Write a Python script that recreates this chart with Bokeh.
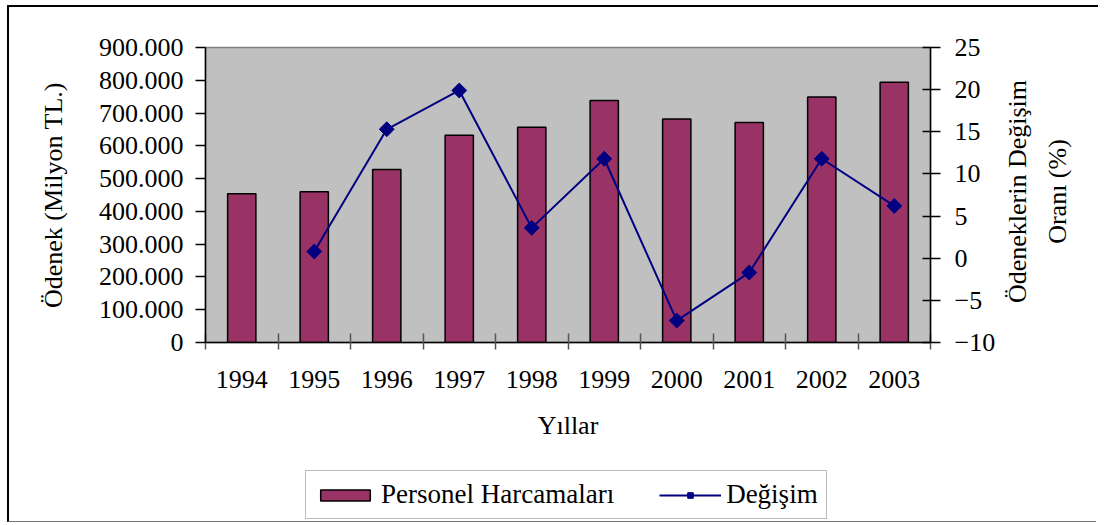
import math
from bokeh.plotting import figure
from bokeh.layouts import column, row
from bokeh.models import Range1d, LinearAxis, FixedTicker, Legend, LegendItem, Label
from bokeh.embed import file_html
from bokeh.resources import INLINE

years = ["1994", "1995", "1996", "1997", "1998", "1999", "2000", "2001", "2002", "2003"]
spending = [454000, 460000, 528000, 632000, 657000, 738000, 682000, 671000, 749000, 794000]
change_pct = [0.8, 15.3, 19.9, 3.6, 11.8, -7.4, -1.7, 11.8, 6.2]  # 1995..2003
left_ticks = [0, 100000, 200000, 300000, 400000, 500000, 600000, 700000, 800000, 900000]
right_ticks = [-10, -5, 0, 5, 10, 15, 20, 25]
right_title = ["Ödeneklerin Değişim", "Oranı (%)"]
series_names = ["Personel Harcamaları", "Değişim"]

FONT = "Liberation Serif"
FS = "26px"
BAR_FILL = "#993366"
LINE_COL = "#000080"

xs = list(range(len(years)))
xs_change = xs[1:]

# ---------------- main chart ----------------
p = figure(
    x_range=Range1d(-0.5, len(years) - 0.5),
    y_range=Range1d(left_ticks[0], left_ticks[-1]),
    frame_width=723, frame_height=293,
    min_border_left=196, min_border_right=72, min_border_top=40, min_border_bottom=110,
    output_backend="svg", toolbar_location=None,
    background_fill_color="#C0C0C0", border_fill_color="white",
    outline_line_color="#808080", outline_line_width=1.5,
)
p.margin = (5, 0, 0, 7)
p.styles = {"border-left": "2px solid black", "border-top": "2px solid black"}
p.extra_y_ranges = {"pct": Range1d(right_ticks[0], right_ticks[-1])}
p.xgrid.visible = False
p.ygrid.visible = False

p.vbar(x=xs, top=spending, bottom=0, width=0.39,
       fill_color=BAR_FILL, line_color="black", line_width=1.5)
p.line(x=xs_change, y=change_pct, y_range_name="pct", line_color=LINE_COL, line_width=2)
p.scatter(x=xs_change, y=change_pct, y_range_name="pct", marker="square",
          angle=math.pi / 4, size=10.5, fill_color=LINE_COL, line_color=LINE_COL)

xa = p.xaxis[0]
xa.ticker = FixedTicker(ticks=xs, minor_ticks=[i - 0.5 for i in range(len(years) + 1)])
xa.major_label_overrides = {i: y for i, y in zip(xs, years)}
xa.major_tick_in = 0
xa.major_tick_out = 0
xa.minor_tick_in = 9
xa.minor_tick_out = 7
xa.minor_tick_line_color = "#555555"
xa.minor_tick_line_width = 1.5
xa.axis_line_color = "black"
xa.axis_line_width = 1.5
xa.major_label_standoff = 21
xa.axis_label = "Yıllar"
xa.axis_label_standoff = 20

ya = p.yaxis[0]
ya.ticker = FixedTicker(ticks=left_ticks)
ya.major_label_overrides = {t: f"{t:,}".replace(",", ".") for t in left_ticks}
ya.major_tick_in = 0
ya.major_tick_out = 10
ya.minor_tick_out = 0
ya.minor_tick_in = 0
ya.major_label_standoff = 12
ya.axis_label = "Ödenek (Milyon TL.)"
ya.axis_label_standoff = 28
ya.axis_line_width = 1.5

ra = LinearAxis(y_range_name="pct", ticker=FixedTicker(ticks=right_ticks))
ra.major_tick_in = 8
ra.major_tick_out = 10
ra.minor_tick_in = 0
ra.minor_tick_out = 0
ra.major_label_standoff = 14
ra.axis_line_width = 1.5
p.add_layout(ra, "right")

for ax in [xa, ya, ra]:
    ax.major_label_text_font = FONT
    ax.major_label_text_font_size = FS
    ax.major_label_text_color = "black"
    ax.axis_label_text_font = FONT
    ax.axis_label_text_font_size = FS
    ax.axis_label_text_font_style = "normal"
    ax.axis_label_text_color = "black"
    ax.major_tick_line_color = "black"
    ax.major_tick_line_width = 1.5

# ---------------- right-hand axis title (reads bottom-to-top) ----------------
tf = figure(width=98, height=443, min_border=0, output_backend="svg", toolbar_location=None,
            x_axis_location=None, y_axis_location=None, outline_line_color=None,
            x_range=Range1d(0, 1), y_range=Range1d(0, 1))
tf.margin = (5, 0, 0, 0)
tf.styles = {"border-top": "2px solid black"}
tf.grid.visible = False
for txt, dx in zip(right_title, [17, 57]):
    tf.add_layout(Label(x=dx, y=149, x_units="screen", y_units="screen", text=txt,
                        angle=math.pi / 2, text_align="center", text_baseline="middle",
                        text_font=FONT, text_font_size=FS, text_color="black"))

# ---------------- legend strip ----------------
lf = figure(width=1089, height=72, min_border=0, output_backend="svg", toolbar_location=None,
            x_axis_location=None, y_axis_location=None, outline_line_color=None,
            x_range=Range1d(-20, -19), y_range=Range1d(0, 1))
lf.margin = (0, 0, 0, 7)
lf.styles = {"border-left": "2px solid black", "border-bottom": "1px solid #777777"}
lf.grid.visible = False
# key renderers (same series, drawn off-view; they only provide the legend swatches)
kb = lf.vbar(x=xs, top=spending, width=0.39, fill_color=BAR_FILL, line_color="black",
             line_width=1.5)
kl = lf.line(x=xs_change, y=change_pct, line_color=LINE_COL, line_width=2)
km = lf.scatter(x=xs_change, y=change_pct, marker="square", angle=math.pi / 4, size=10.5,
                fill_color=LINE_COL, line_color=LINE_COL)
legend = Legend(
    items=[LegendItem(label=series_names[0], renderers=[kb]),
           LegendItem(label=series_names[1], renderers=[kl, km])],
    orientation="horizontal", location=(296, 3),
    label_text_font=FONT, label_text_font_size="27px", label_text_color="black",
    glyph_width=62, glyph_height=14, label_standoff=5, spacing=45,
    padding=8, margin=0,
    border_line_color="#777777", border_line_width=1.5,
    background_fill_color="white", background_fill_alpha=1.0,
)
lf.add_layout(legend, "center")

layout = column(row(p, tf), lf)
open("out.html", "w").write(file_html(layout, INLINE))
